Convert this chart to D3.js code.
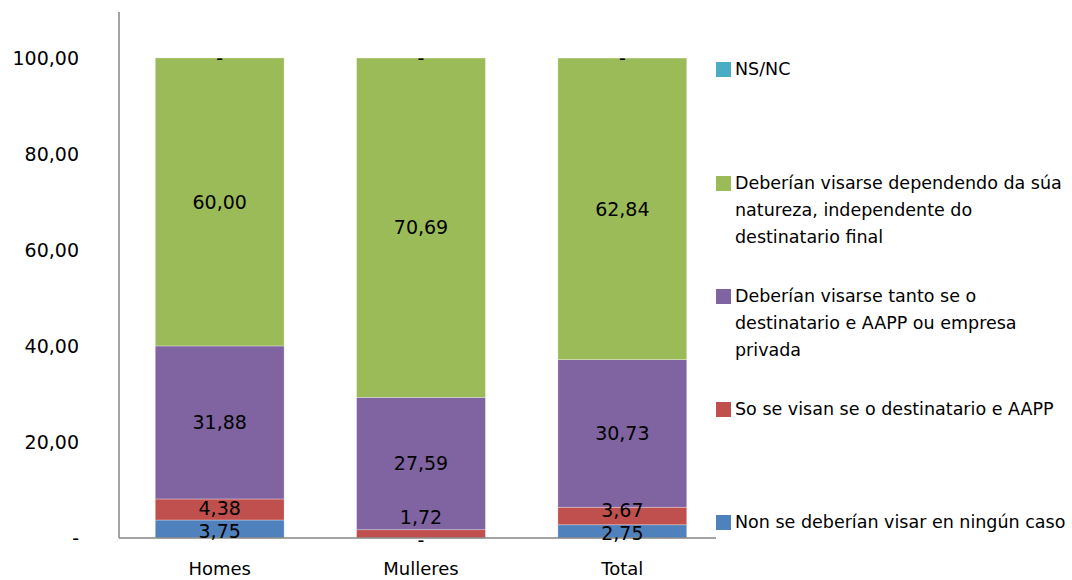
<!DOCTYPE html>
<html>
<head>
<meta charset="utf-8">
<script src="https://cdn.jsdelivr.net/npm/d3@7"></script>
<style>
  body { margin: 0; background: #fff; }
  text { font-family: "DejaVu Sans", sans-serif; fill: #000; }
</style>
</head>
<body>
<div class="chart"></div>
<script>
var svgWidth = 1072;
var svgHeight = 580;

// data
var categories = ["Homes", "Mulleres", "Total"];
var seriesNames = [
  "Non se deberían visar en ningún caso",
  "So se visan se o destinatario e AAPP",
  "Deberían visarse tanto se o destinatario e AAPP ou empresa privada",
  "Deberían visarse dependendo da súa natureza, independente do destinatario final",
  "NS/NC"
];
var nonVisar = [3.75, 0, 2.75];
var soAAPP = [4.38, 1.72, 3.67];
var tantoAAPP = [31.88, 27.59, 30.73];
var natureza = [60.00, 70.69, 62.84];
var nsnc = [0, 0, 0];
var yTicks = [0, 20, 40, 60, 80, 100];

// legend lines as shown (wrapped)
var legendLines = [
  ["Non se deberían visar en ningún caso"],
  ["So se visan se o destinatario e AAPP"],
  ["Deberían visarse tanto se o", "destinatario e AAPP ou empresa", "privada"],
  ["Deberían visarse dependendo da súa", "natureza, independente do", "destinatario final"],
  ["NS/NC"]
];
var legendY = [522, 409, 296, 183, 69];
var colors = ["#4F81BD", "#C0504D", "#8064A2", "#9BBB59", "#4BACC6"];

var seriesValues = [nonVisar, soAAPP, tantoAAPP, natureza, nsnc];
var table = categories.map(function (c, i) {
  var row = { cat: c };
  seriesValues.forEach(function (s, k) { row["s" + k] = s[i]; });
  return row;
});
var keys = seriesValues.map(function (s, k) { return "s" + k; });
var stacked = d3.stack().keys(keys)(table);

var plotLeft = 119;
var axisRight = 716;

var svg = d3.select(".chart")
  .append("svg")
  .attr("width", svgWidth)
  .attr("height", svgHeight);

var x = d3.scaleBand()
  .domain(categories)
  .range([plotLeft, 723])
  .paddingInner(0.36)
  .paddingOuter(0.18);

var y = d3.scaleLinear()
  .domain([0, 100])
  .range([538, 58]);

var fmt = function (v) {
  return v === 0 ? "-" : d3.format(".2f")(v).replace(".", ",");
};

// label positions: centre of segment, nudged apart when too close (like Excel)
var labels = [];
stacked.forEach(function (layer, k) {
  layer.forEach(function (d, i) {
    var val = d[1] - d[0];
    var cy = (y(d[0]) + y(d[1])) / 2;
    if (k === 0) cy += 2;
    if (k > 0) {
      cy = Math.min(cy, stacked[k - 1][i].ly - 23);
    }
    d.ly = cy;
    labels.push({ cat: d.data.cat, ly: cy, text: fmt(val) });
  });
});

// bars
var layers = svg.selectAll("g.layer")
  .data(stacked)
  .enter()
  .append("g")
  .attr("class", "layer")
  .attr("fill", function (d, i) { return colors[i]; });

layers.selectAll("rect")
  .data(function (d) { return d; })
  .enter()
  .append("rect")
  .attr("x", function (d) { return x(d.data.cat); })
  .attr("width", x.bandwidth())
  .attr("y", function (d) { return y(d[1]); })
  .attr("height", function (d) { return y(d[0]) - y(d[1]); })
  .attr("stroke", "#fff")
  .attr("stroke-opacity", 0.5)
  .attr("stroke-width", 0.6);

// axes lines
svg.append("line")
  .attr("x1", plotLeft).attr("x2", plotLeft)
  .attr("y1", 12).attr("y2", 538)
  .attr("stroke", "#868686").attr("stroke-width", 1.5);

svg.append("line")
  .attr("x1", plotLeft).attr("x2", axisRight)
  .attr("y1", 538).attr("y2", 538)
  .attr("stroke", "#868686").attr("stroke-width", 1.5);

// y tick labels
svg.selectAll("text.ytick")
  .data(yTicks)
  .enter()
  .append("text")
  .attr("class", "ytick")
  .attr("x", 79)
  .attr("y", function (d) { return y(d); })
  .attr("dy", "0.35em")
  .attr("text-anchor", "end")
  .style("font-size", "19px")
  .text(function (d) { return d === 0 ? "-" : fmt(d); });

// category labels
svg.selectAll("text.xcat")
  .data(categories)
  .enter()
  .append("text")
  .attr("class", "xcat")
  .attr("x", function (d) { return x(d) + x.bandwidth() / 2; })
  .attr("y", 569)
  .attr("dy", "0.35em")
  .attr("text-anchor", "middle")
  .style("font-size", "18px")
  .text(function (d) { return d; });

// data labels (drawn on top of all bars)
svg.append("g").selectAll("text")
  .data(labels)
  .enter()
  .append("text")
  .attr("x", function (d) { return x(d.cat) + x.bandwidth() / 2; })
  .attr("y", function (d) { return d.ly; })
  .attr("dy", "0.35em")
  .attr("text-anchor", "middle")
  .style("font-size", "19px")
  .text(function (d) { return d.text; });

// legend
var legend = svg.selectAll("g.legend")
  .data(legendLines)
  .enter()
  .append("g")
  .attr("class", "legend")
  .attr("transform", function (d, i) { return "translate(716," + legendY[i] + ")"; });

legend.append("rect")
  .attr("x", 0).attr("y", -7)
  .attr("width", 15).attr("height", 15)
  .attr("fill", function (d, i) { return colors[i]; });

legend.each(function (lines) {
  var t = d3.select(this).append("text")
    .attr("x", 19)
    .attr("y", 0)
    .style("font-size", "17.5px");
  lines.forEach(function (l, j) {
    t.append("tspan")
      .attr("x", 19)
      .attr("dy", j === 0 ? "0.35em" : "27px")
      .text(l);
  });
});
</script>
</body>
</html>
